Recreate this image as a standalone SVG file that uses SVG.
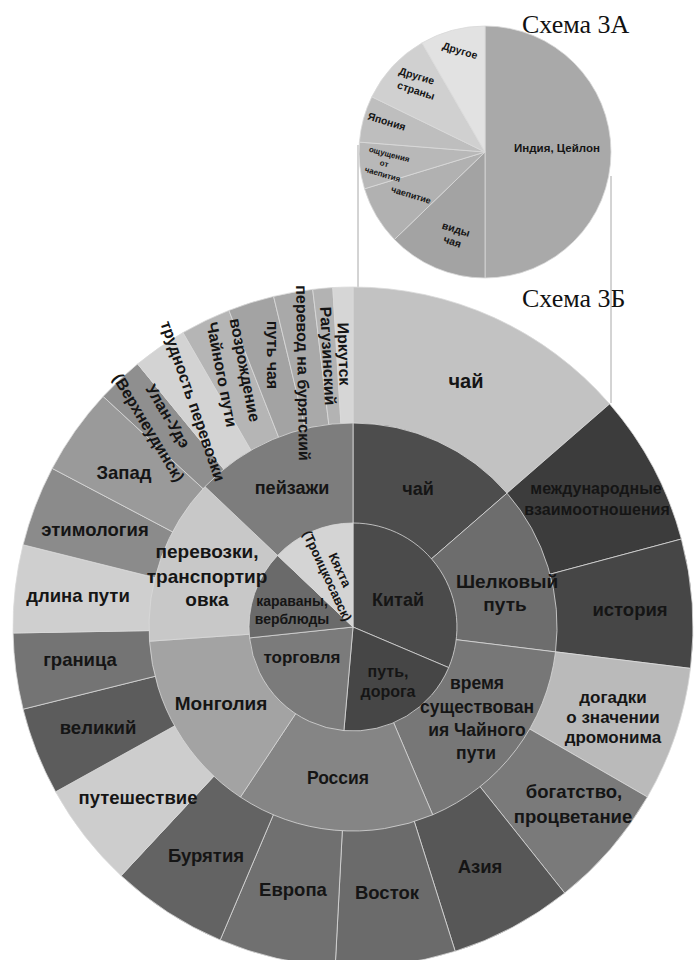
<svg xmlns="http://www.w3.org/2000/svg" width="695" height="960" viewBox="0 0 695 960">
<style>
.w{stroke:#d9d9d9;stroke-width:0.8;stroke-linejoin:round}
.t{font-family:"Liberation Sans",Arial,sans-serif;font-weight:bold;fill:#151515;text-anchor:middle}
.o{font-size:18.5px}
.r{font-size:16px}
.s{font-size:10.5px}
.ttl{font-family:"Liberation Serif","Times New Roman",serif;font-size:26px;fill:#111}
.cn{stroke:#a8a8a8;stroke-width:1;fill:none}
</style>
<rect width="695" height="960" fill="#ffffff"/>

<text class="ttl" x="522" y="33">Схема 3А</text>
<text class="ttl" x="522" y="307">Схема 3Б</text>

<g id="connectors">
<line class="cn" x1="358" y1="145" x2="358" y2="288"/>
<line class="cn" x1="611" y1="176" x2="611" y2="403"/>
</g>

<!-- Small pie, Схема 3А -->
<g id="pie-india"><path class="w" fill="#a9a9a9" d="M485 152 L485 26 A126 126 0 0 1 611 152 A126 126 0 0 1 485 278 Z"/><text class="t" style="font-size:11.5px" x="557" y="152">Индия, Цейлон</text></g>
<g id="pie-vidy"><path class="w" fill="#a3a3a3" d="M485 152 L485 278 A126 126 0 0 1 394.4 239.5 Z"/><text class="t s" transform="translate(456,229.3) rotate(17)" y="3.5">виды</text><text class="t s" transform="translate(452.3,241.7) rotate(18)" y="3.5">чая</text></g>
<g id="pie-chaepitie"><path class="w" fill="#b1b1b1" d="M485 152 L394.4 239.5 A126 126 0 0 1 364.5 188.8 Z"/><text class="t" style="font-size:9px" transform="translate(411,195) rotate(17)" y="3">чаепитие</text></g>
<g id="pie-oshch"><path class="w" fill="#b8b8b8" d="M485 152 L364.5 188.8 A126 126 0 0 1 359.4 142.1 Z"/><text class="t" style="font-size:8px" transform="translate(389.3,154) rotate(15)" y="3">ощущения</text><text class="t" style="font-size:8px" transform="translate(384.3,163.3) rotate(15)" y="3">от</text><text class="t" style="font-size:8px" transform="translate(382.7,174) rotate(16)" y="3">чаепития</text></g>
<g id="pie-japan"><path class="w" fill="#bebebe" d="M485 152 L359.4 142.1 A126 126 0 0 1 371.8 96.8 Z"/><text class="t s" transform="translate(386.7,121.7) rotate(17)" y="3.5">Япония</text></g>
<g id="pie-other-countries"><path class="w" fill="#d0d0d0" d="M485 152 L371.8 96.8 A126 126 0 0 1 422 42.9 Z"/><text class="t s" transform="translate(416.7,76) rotate(17)" y="3.5">Другие</text><text class="t s" transform="translate(416,90.7) rotate(18)" y="3.5">страны</text></g>
<g id="pie-other"><path class="w" fill="#e2e2e2" d="M485 152 L422 42.9 A126 126 0 0 1 485 26 Z"/><text class="t s" transform="translate(460,50.7) rotate(17)" y="3.5">Другое</text></g>

<!-- Outer ring -->
<g id="o-chai"><path class="w" fill="#c2c2c2" d="M353 627 L353 287 A340 340 0 0 1 609.6 403.9 Z"/></g>
<g id="o-mezhd"><path class="w" fill="#3c3c3c" d="M353 627 L609.6 403.9 A340 340 0 0 1 681.4 539 Z"/></g>
<g id="o-istoriya"><path class="w" fill="#464646" d="M353 627 L681.4 539 A340 340 0 0 1 690.5 668.4 Z"/></g>
<g id="o-dogadki"><path class="w" fill="#bababa" d="M353 627 L690.5 668.4 A340 340 0 0 1 647.4 797 Z"/></g>
<g id="o-bogatstvo"><path class="w" fill="#7a7a7a" d="M353 627 L647.4 797 A340 340 0 0 1 564.7 893.1 Z"/></g>
<g id="o-aziya"><path class="w" fill="#575757" d="M353 627 L564.7 893.1 A340 340 0 0 1 455.2 951.3 Z"/></g>
<g id="o-vostok"><path class="w" fill="#6b6b6b" d="M353 627 L455.2 951.3 A340 340 0 0 1 335.2 966.5 Z"/></g>
<g id="o-evropa"><path class="w" fill="#707070" d="M353 627 L335.2 966.5 A340 340 0 0 1 220.2 940 Z"/></g>
<g id="o-buryatiya"><path class="w" fill="#636363" d="M353 627 L220.2 940 A340 340 0 0 1 121.1 875.7 Z"/></g>
<g id="o-puteshestvie"><path class="w" fill="#cdcdcd" d="M353 627 L121.1 875.7 A340 340 0 0 1 55.6 791.8 Z"/></g>
<g id="o-velikiy"><path class="w" fill="#5c5c5c" d="M353 627 L55.6 791.8 A340 340 0 0 1 23.1 709.2 Z"/></g>
<g id="o-granitsa"><path class="w" fill="#747474" d="M353 627 L23.1 709.2 A340 340 0 0 1 13.1 633 Z"/></g>
<g id="o-dlina"><path class="w" fill="#cfcfcf" d="M353 627 L13.1 633 A340 340 0 0 1 23.1 544.8 Z"/></g>
<g id="o-etimologiya"><path class="w" fill="#8b8b8b" d="M353 627 L23.1 544.8 A340 340 0 0 1 52.2 468.4 Z"/></g>
<g id="o-zapad"><path class="w" fill="#9a9a9a" d="M353 627 L52.2 468.4 A340 340 0 0 1 103.1 396.4 Z"/></g>
<g id="o-ulan-ude"><path class="w" fill="#8f8f8f" d="M353 627 L103.1 396.4 A340 340 0 0 1 137.6 363.9 Z"/></g>
<g id="o-trudnost"><path class="w" fill="#d3d3d3" d="M353 627 L137.6 363.9 A340 340 0 0 1 183 332.6 Z"/></g>
<g id="o-vozrozhdenie"><path class="w" fill="#b5b5b5" d="M353 627 L183 332.6 A340 340 0 0 1 228.9 310.4 Z"/></g>
<g id="o-put-chaya"><path class="w" fill="#a3a3a3" d="M353 627 L228.9 310.4 A340 340 0 0 1 273.6 296.4 Z"/></g>
<g id="o-perevod"><path class="w" fill="#a9a9a9" d="M353 627 L273.6 296.4 A340 340 0 0 1 312.7 289.4 Z"/></g>
<g id="o-raguzinskiy"><path class="w" fill="#b3b3b3" d="M353 627 L312.7 289.4 A340 340 0 0 1 332.8 287.6 Z"/></g>
<g id="o-irkutsk"><path class="w" fill="#d6d6d6" d="M353 627 L332.8 287.6 A340 340 0 0 1 353 287 Z"/></g>

<!-- Middle ring -->
<g id="m-chai"><path class="w" fill="#4d4d4d" d="M353 627 L353 423 A204 204 0 0 1 507 493.2 Z"/></g>
<g id="m-shelk"><path class="w" fill="#6d6d6d" d="M353 627 L507 493.2 A204 204 0 0 1 555.5 651.9 Z"/></g>
<g id="m-vremya"><path class="w" fill="#777777" d="M353 627 L555.5 651.9 A204 204 0 0 1 432.7 814.8 Z"/></g>
<g id="m-rossiya"><path class="w" fill="#858585" d="M353 627 L432.7 814.8 A204 204 0 0 1 240.4 797.1 Z"/></g>
<g id="m-mongoliya"><path class="w" fill="#a3a3a3" d="M353 627 L240.4 797.1 A204 204 0 0 1 149.5 641.2 Z"/></g>
<g id="m-perevozki"><path class="w" fill="#c8c8c8" d="M353 627 L149.5 641.2 A204 204 0 0 1 205 486.6 Z"/></g>
<g id="m-peyzazhi"><path class="w" fill="#7d7d7d" d="M353 627 L205 486.6 A204 204 0 0 1 353 423 Z"/></g>

<!-- Inner ring -->
<g id="i-kitai"><path class="w" fill="#4b4b4b" d="M353 627 L353 523 A104 104 0 0 1 448.7 667.6 Z"/></g>
<g id="i-put-doroga"><path class="w" fill="#464646" d="M353 627 L448.7 667.6 A104 104 0 0 1 343.9 730.6 Z"/></g>
<g id="i-torgovlya"><path class="w" fill="#7b7b7b" d="M353 627 L343.9 730.6 A104 104 0 0 1 249.6 637.9 Z"/></g>
<g id="i-karavany"><path class="w" fill="#6a6a6a" d="M353 627 L249.6 637.9 A104 104 0 0 1 277.6 555.4 Z"/></g>
<g id="i-kyakhta"><path class="w" fill="#d4d4d4" d="M353 627 L277.6 555.4 A104 104 0 0 1 353 523 Z"/></g>

<!-- Labels -->
<g id="labels">
<text class="t" style="font-size:20px" x="466" y="388">чай</text>
<text class="t" style="font-size:16px" x="596" y="494">международные</text>
<text class="t" style="font-size:16px" x="597" y="515">взаимоотношения</text>
<text class="t o" x="630" y="616">история</text>
<text class="t" style="font-size:17px" x="613" y="703">догадки</text>
<text class="t" style="font-size:17px" x="613" y="723">о значении</text>
<text class="t" style="font-size:17px" x="613" y="743">дромонима</text>
<text class="t o" x="574" y="798">богатство,</text>
<text class="t o" x="573" y="823">процветание</text>
<text class="t o" x="480" y="873">Азия</text>
<text class="t o" x="387" y="899">Восток</text>
<text class="t o" x="293" y="896">Европа</text>
<text class="t o" x="206" y="862">Бурятия</text>
<text class="t o" x="138" y="804">путешествие</text>
<text class="t o" x="98" y="734">великий</text>
<text class="t o" x="80" y="666">граница</text>
<text class="t o" x="78" y="602">длина пути</text>
<text class="t o" x="95" y="536">этимология</text>
<text class="t o" x="124" y="479">Запад</text>

<text class="t r" transform="translate(344,354) rotate(88)" y="5.5">Иркутск</text>
<text class="t r" transform="translate(328,356) rotate(87)" y="5.5">Рагузинский</text>
<text class="t r" transform="translate(303,373) rotate(89)" y="5.5">перевод на бурятский</text>
<text class="t r" transform="translate(272,355) rotate(90)" y="5.5">путь чая</text>
<text class="t r" transform="translate(245,370) rotate(79)"><tspan x="0" y="5.5">возрождение</tspan><tspan x="0" y="29">Чайного пути</tspan></text>
<text class="t r" transform="translate(193,401) rotate(71)" y="5.5">трудность перевозки</text>
<text class="t r" transform="translate(168,416) rotate(59)"><tspan x="0" y="5.5">Улан-Удэ</tspan><tspan x="0" y="28">(Верхнеудинск)</tspan></text>

<text class="t" style="font-size:18px" x="418" y="495">чай</text>
<text class="t" style="font-size:19px" x="507" y="588">Шелковый</text>
<text class="t" style="font-size:19px" x="505" y="611">путь</text>
<text class="t" style="font-size:17.5px" x="477" y="689">время</text>
<text class="t" style="font-size:17.5px" x="477" y="713">существован</text>
<text class="t" style="font-size:17.5px" x="477" y="736">ия Чайного</text>
<text class="t" style="font-size:17.5px" x="476" y="759">пути</text>
<text class="t" style="font-size:17.5px" x="338" y="784">Россия</text>
<text class="t" style="font-size:19px" x="221" y="710">Монголия</text>
<text class="t" style="font-size:19px" x="207" y="558">перевозки,</text>
<text class="t" style="font-size:19px" x="207" y="583">транспортир</text>
<text class="t" style="font-size:19px" x="207" y="606">овка</text>
<text class="t" style="font-size:18px" x="292" y="494">пейзажи</text>

<text class="t" style="font-size:18px" x="398" y="606">Китай</text>
<text class="t" style="font-size:16px" x="388" y="677">путь,</text>
<text class="t" style="font-size:16px" x="388" y="697">дорога</text>
<text class="t" style="font-size:17px" x="302" y="663">торговля</text>
<text class="t" style="font-size:14px" x="292" y="606">караваны,</text>
<text class="t" style="font-size:14px" x="292" y="624">верблюды</text>
<text class="t" style="font-size:13px" transform="translate(340,570) rotate(65)"><tspan x="0" y="4.5">Кяхта</tspan><tspan x="0" y="18.5">(Троицкосавск)</tspan></text>
</g>
</svg>
